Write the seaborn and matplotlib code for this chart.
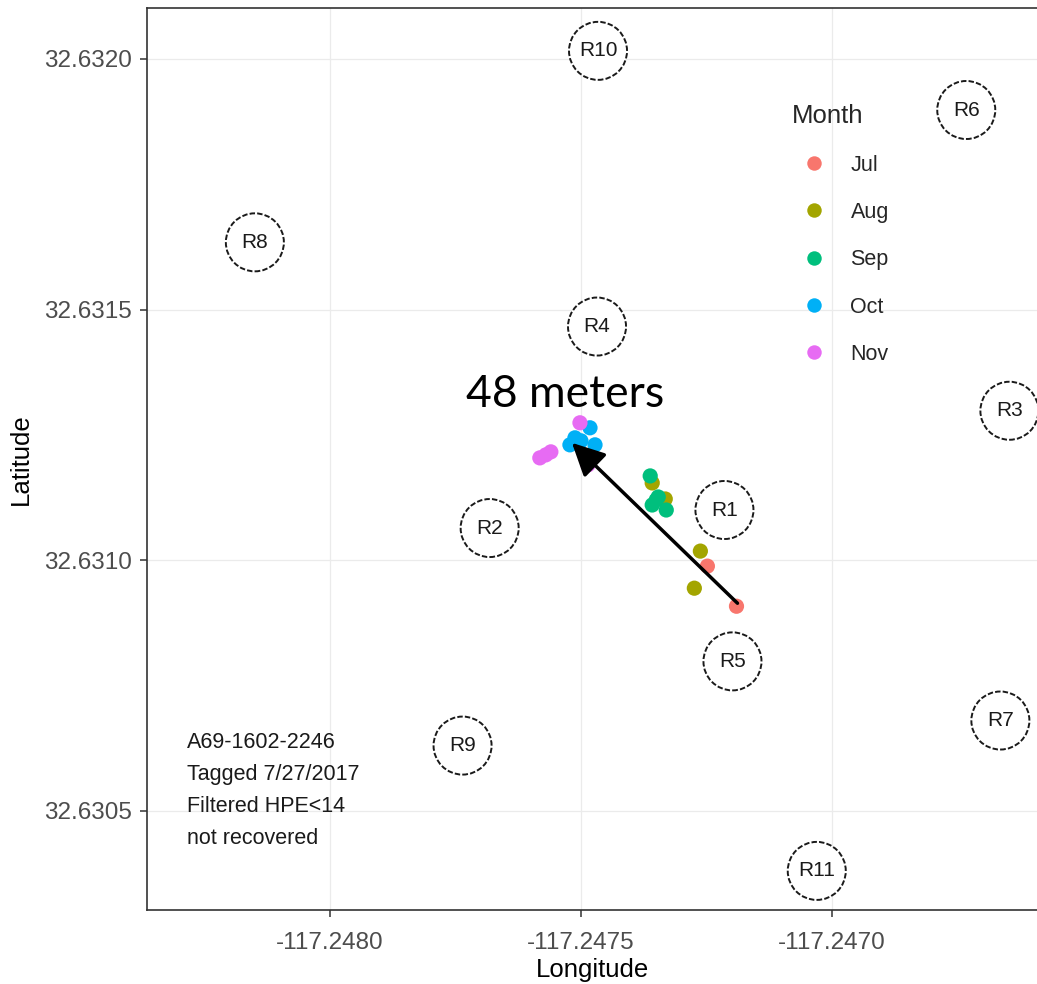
import numpy as np
import pandas as pd
import matplotlib
matplotlib.use("Agg")
import matplotlib.pyplot as plt
import seaborn as sns
from matplotlib.ticker import FormatStrFormatter

# detections (tag A69-1602-2246), grouped by month
months = ["Jul", "Aug", "Sep", "Oct", "Nov"]
det_month = ["Jul", "Jul",
             "Aug", "Aug", "Aug", "Aug",
             "Sep", "Sep", "Sep", "Sep", "Sep",
             "Oct", "Oct", "Oct", "Oct", "Oct",
             "Nov", "Nov", "Nov", "Nov", "Nov"]
det_lon = [-117.247190, -117.247248,
           -117.247262, -117.247274, -117.247358, -117.247332,
           -117.247362, -117.247346, -117.247358, -117.247330, -117.247350,
           -117.247482, -117.247522, -117.247512, -117.247472, -117.247500,
           -117.247502, -117.247582, -117.247570, -117.247560, -117.247486]
det_lat = [32.630908, 32.630988,
           32.631018, 32.630944, 32.631154, 32.631122,
           32.631168, 32.631126, 32.631110, 32.631100, 32.631120,
           32.631264, 32.631230, 32.631244, 32.631230, 32.631238,
           32.631274, 32.631204, 32.631210, 32.631216, 32.631190]

# receiver stations
rec_name = ["R1", "R2", "R3", "R4", "R5", "R6", "R7", "R8", "R9", "R10", "R11"]
rec_lon = [-117.247214, -117.247682, -117.246646, -117.247468, -117.247198,
           -117.246732, -117.246664, -117.248150, -117.247736, -117.247466,
           -117.247030]
rec_lat = [32.631100, 32.631064, 32.631298, 32.631466, 32.630798,
           32.631898, 32.630680, 32.631634, 32.630630, 32.632016,
           32.630380]

# movement arrow (first -> last position)
arrow_start = (-117.247188, 32.630914)
arrow_end = (-117.247518, 32.631234)
arrow_label = "48 meters"

info_lines = ["A69-1602-2246", "Tagged 7/27/2017", "Filtered HPE<14", "not recovered"]

x_ticks = [-117.2480, -117.2475, -117.2470]
y_ticks = [32.6305, 32.6310, 32.6315, 32.6320]

palette = ["#F8766D", "#A3A500", "#00BF7D", "#00B0F6", "#E76BF3"]

sns.set_style("white")
plt.rcParams['font.family'] = ['Liberation Sans', 'DejaVu Sans']

df = pd.DataFrame({"Longitude": det_lon, "Latitude": det_lat, "Month": det_month})

fig = plt.figure(figsize=(10.37, 9.84), dpi=100)
ax = fig.add_axes([147 / 1037, 74 / 984, 890 / 1037, 902 / 984])

ax.set_xlim(-117.248365, -117.246591)
ax.set_ylim(32.630302, 32.6321015)
ax.set_xticks(x_ticks)
ax.set_yticks(y_ticks)
ax.xaxis.set_major_formatter(FormatStrFormatter('%.4f'))
ax.yaxis.set_major_formatter(FormatStrFormatter('%.4f'))
ax.grid(True, color="#EBEBEB", lw=0.9)
ax.set_axisbelow(True)

# receivers: dashed circles with labels
ax.scatter(rec_lon, rec_lat, s=1745, facecolors="white", edgecolors="#1a1a1a",
           linewidths=1.4, linestyles=(0, (2.8, 1.1)), zorder=2)
for name, x, y in zip(rec_name, rec_lon, rec_lat):
    ax.text(x, y, name, ha="center", va="center", fontsize=15, color="#1a1a1a", zorder=3)

sns.scatterplot(data=df, x="Longitude", y="Latitude", hue="Month", hue_order=months,
                palette=palette, s=120, edgecolor="none", ax=ax, zorder=4)

ax.annotate("", xy=arrow_end, xytext=arrow_start,
            arrowprops=dict(arrowstyle="-|>", color="black", lw=2.5,
                            mutation_scale=50, shrinkA=0, shrinkB=0), zorder=5)
ax.text(-117.247532, 32.631330, arrow_label, ha="center", va="center",
        fontsize=32, family=["Lato", "DejaVu Sans"], color="black", zorder=5)

ax.text(0.045, 0.197, "\n".join(info_lines), transform=ax.transAxes, ha="left", va="top",
        fontsize=15.5, linespacing=1.68, color="#1a1a1a")

for side in ["left", "top", "bottom"]:
    ax.spines[side].set_color("#333333")
    ax.spines[side].set_linewidth(1.2)
ax.spines["right"].set_visible(False)

ax.tick_params(axis="both", colors="#333333", labelcolor="#4D4D4D", labelsize=17.5,
               length=5, width=1.1, bottom=True, left=True, pad=6)
ax.tick_params(axis="x", pad=11)
ax.set_xlabel("Longitude", fontsize=18.5, color="black", labelpad=3)
ax.set_ylabel("Latitude", fontsize=18.5, color="black", labelpad=8)

leg = ax.legend(title="Month", loc="upper left", bbox_to_anchor=(0.713, 0.905),
                frameon=False, fontsize=15.5, title_fontsize=18.5, borderpad=0,
                labelspacing=1.22, handletextpad=0.7, markerscale=0.95)
leg._legend_box.align = "left"

fig.savefig("out.png", dpi=100)
